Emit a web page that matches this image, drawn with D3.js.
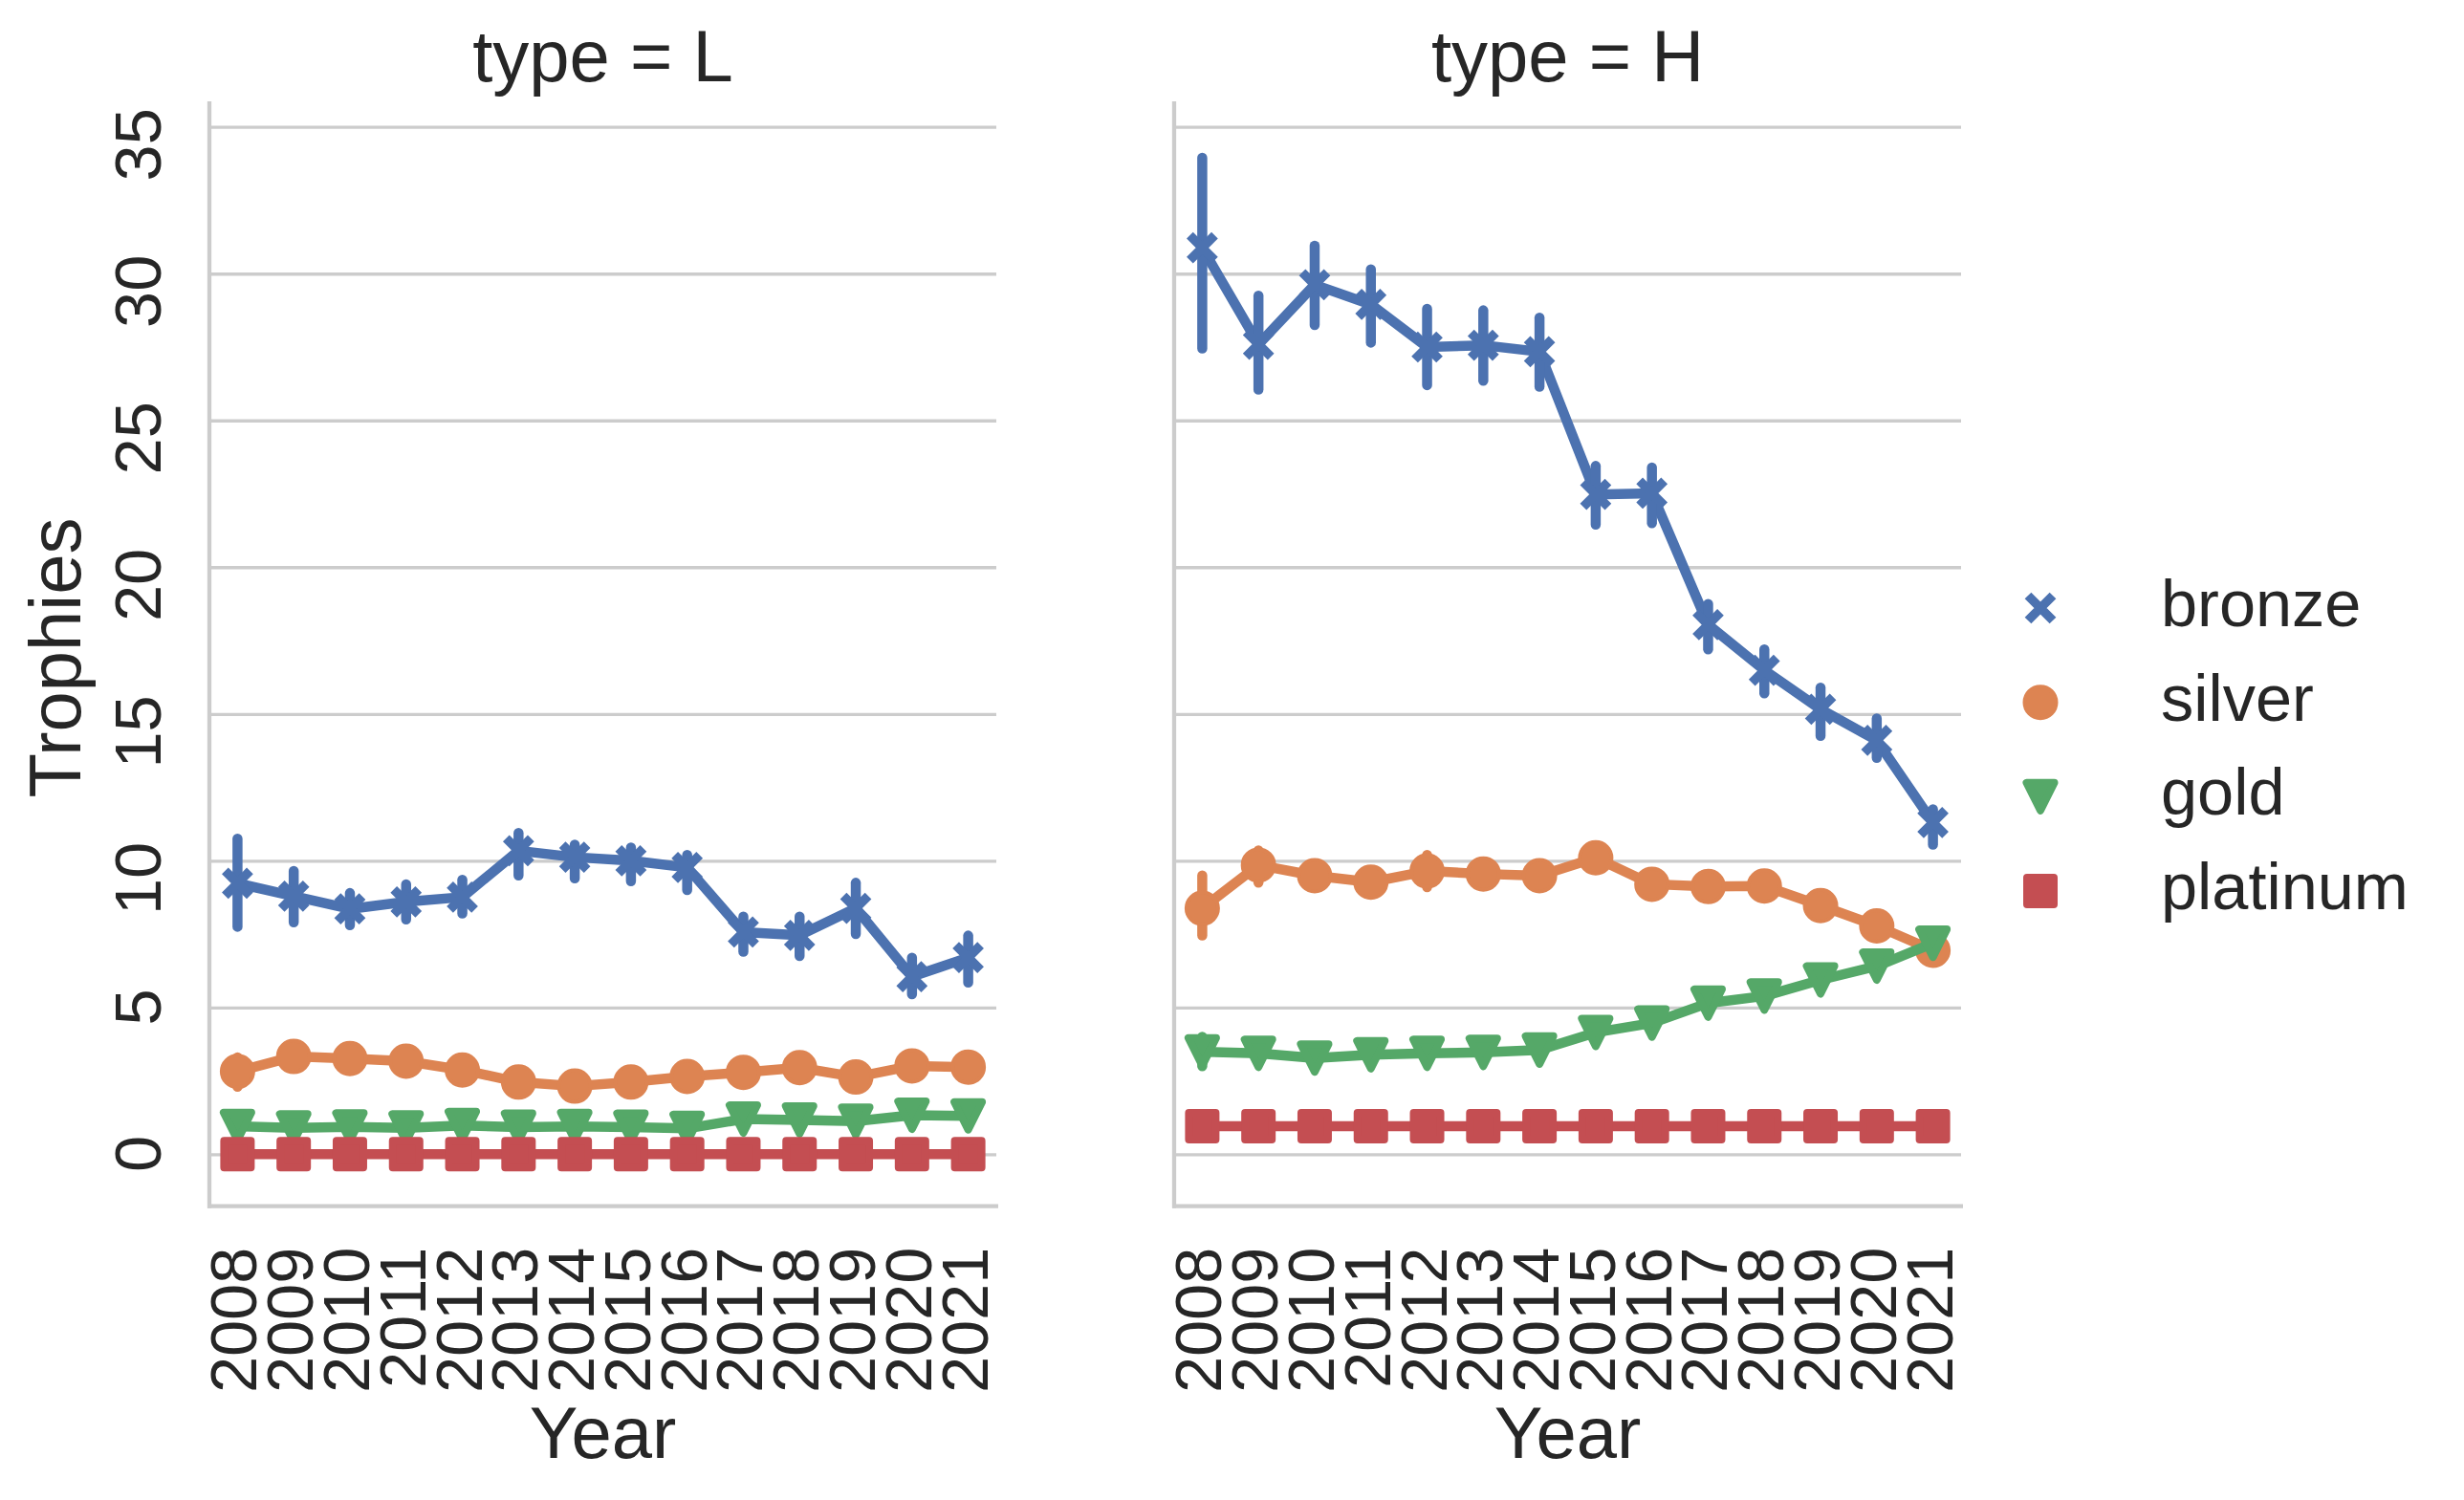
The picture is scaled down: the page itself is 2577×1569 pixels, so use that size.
<!DOCTYPE html>
<html><head><meta charset="utf-8">
<script src="https://cdn.jsdelivr.net/npm/d3@7/dist/d3.min.js"></script>
<style>
body{margin:0;background:#fff}
text{font-family:"Liberation Sans",Arial,sans-serif;fill:#262626}
</style>
</head><body>
<svg id="chart" width="2577" height="1569"></svg>
<script>
// ---------------- data ----------------
const years = ["2008","2009","2010","2011","2012","2013","2014","2015","2016","2017","2018","2019","2020","2021"];
const medals = ["bronze","silver","gold","platinum"];
const panelTypes = ["L","H"];
const medalColors = ["#4c72b0","#dd8452","#55a868","#c44e52"];
const yTickValues = [0,5,10,15,20,25,30,35];

// type = L
const bronzeL   = [9.23, 8.79, 8.36, 8.60, 8.76, 10.34, 10.12, 10.00, 9.77, 7.57, 7.46, 8.38, 6.05, 6.70];
const bronzeLLo = [7.75, 7.90, 7.80, 8.00, 8.20, 9.50, 9.40, 9.30, 9.00, 6.90, 6.75, 7.50, 5.45, 5.85];
const bronzeLHi = [10.75, 9.65, 8.90, 9.20, 9.35, 10.95, 10.55, 10.45, 10.20, 8.10, 8.10, 9.25, 6.70, 7.45];
const silverL   = [2.82, 3.33, 3.26, 3.17, 2.87, 2.46, 2.32, 2.46, 2.65, 2.79, 2.95, 2.63, 3.01, 2.97];
const silverLLo = [2.30, 3.05, 3.00, 2.90, 2.60, 2.20, 2.05, 2.20, 2.40, 2.55, 2.70, 2.35, 2.75, 2.75];
const silverLHi = [3.30, 3.60, 3.50, 3.45, 3.15, 2.75, 2.60, 2.70, 2.90, 3.05, 3.20, 2.90, 3.25, 3.20];
const goldL     = [0.95, 0.90, 0.93, 0.90, 0.98, 0.92, 0.95, 0.92, 0.88, 1.20, 1.17, 1.13, 1.33, 1.31];
const goldLLo   = [0.80, 0.75, 0.78, 0.75, 0.83, 0.77, 0.80, 0.77, 0.73, 1.05, 1.02, 0.98, 1.18, 1.16];
const goldLHi   = [1.10, 1.05, 1.08, 1.05, 1.13, 1.07, 1.10, 1.07, 1.03, 1.35, 1.32, 1.28, 1.48, 1.46];
const platinumL   = [0,0,0,0,0,0,0,0,0,0,0,0,0,0];
const platinumLLo = [0,0,0,0,0,0,0,0,0,0,0,0,0,0];
const platinumLHi = [0,0,0,0,0,0,0,0,0,0,0,0,0,0];

// type = H
const bronzeH   = [30.88, 27.59, 29.62, 28.95, 27.50, 27.56, 27.34, 22.48, 22.52, 18.04, 16.49, 15.16, 14.10, 11.30];
const bronzeHLo = [27.45, 26.05, 28.25, 27.65, 26.20, 26.35, 26.15, 21.45, 21.50, 17.20, 15.70, 14.25, 13.50, 10.55];
const bronzeHHi = [33.95, 29.25, 30.95, 30.15, 28.80, 28.75, 28.50, 23.45, 23.40, 18.75, 17.20, 15.90, 14.85, 11.75];
const silverH   = [8.38, 9.85, 9.49, 9.27, 9.65, 9.55, 9.49, 10.10, 9.20, 9.12, 9.14, 8.47, 7.78, 6.95];
const silverHLo = [7.45, 9.25, 9.15, 9.00, 9.10, 9.15, 9.20, 9.80, 8.95, 8.85, 8.90, 8.20, 7.50, 6.70];
const silverHHi = [9.50, 10.35, 9.85, 9.55, 10.20, 9.95, 9.80, 10.40, 9.45, 9.40, 9.40, 8.75, 8.05, 7.20];
const goldH     = [3.49, 3.44, 3.28, 3.39, 3.44, 3.47, 3.55, 4.15, 4.47, 5.15, 5.39, 5.94, 6.41, 7.19];
const goldHLo   = [3.00, 3.25, 3.10, 3.20, 3.25, 3.30, 3.35, 3.95, 4.25, 4.95, 5.20, 5.75, 6.20, 7.00];
const goldHHi   = [4.00, 3.65, 3.45, 3.60, 3.65, 3.65, 3.75, 4.35, 4.70, 5.35, 5.60, 6.15, 6.60, 7.40];
const platinumH   = [0.96,0.96,0.96,0.96,0.96,0.96,0.96,0.96,0.96,0.96,0.96,0.96,0.96,0.96];
const platinumHLo = [0.96,0.96,0.96,0.96,0.96,0.96,0.96,0.96,0.96,0.96,0.96,0.96,0.96,0.96];
const platinumHHi = [0.96,0.96,0.96,0.96,0.96,0.96,0.96,0.96,0.96,0.96,0.96,0.96,0.96,0.96];

const panelData = {
  L: [[bronzeL,bronzeLLo,bronzeLHi],[silverL,silverLLo,silverLHi],[goldL,goldLLo,goldLHi],[platinumL,platinumLLo,platinumLHi]],
  H: [[bronzeH,bronzeHLo,bronzeHHi],[silverH,silverHLo,silverHHi],[goldH,goldHLo,goldHHi],[platinumH,platinumHLo,platinumHHi]]
};

// ---------------- layout ----------------
const svg = d3.select("#chart");
const panelLeft = [219, 1228];
const panelW = 823;
const yTop = 106, yBottom = 1261.7;
const tickFont = 68.5, labelFont = 76;
const lw = 10.5;
const gridColor = "#cccccc";

const y = d3.scaleLinear().domain([-1.77, 35.87]).range([yBottom, yTop]);

function markerPath(kind) {
  if (kind === 0) { // x
    const a = 13;
    return `M${-a},${-a}L${a},${a}M${-a},${a}L${a},${-a}`;
  } else if (kind === 1) { // circle
    return d3.symbol(d3.symbolCircle, Math.PI * 16.5 * 16.5)();
  } else if (kind === 2) { // triangle down
    const s = 14.5;
    return `M${-s},${-s}L${s},${-s}L0,${s}Z`;
  } else { // square
    const s = 14;
    return `M${-s},${-s}L${s},${-s}L${s},${s}L${-s},${s}Z`;
  }
}
function styleMarker(sel, k) {
  const c = medalColors[k];
  if (k === 0) {
    sel.attr("fill", "none").attr("stroke", c).attr("stroke-width", 9.5);
  } else {
    sel.attr("fill", c).attr("stroke", c).attr("stroke-width", k === 1 ? 4 : 8).attr("stroke-linejoin", "round");
  }
}

panelTypes.forEach((ptype, pi) => {
  const x0 = panelLeft[pi];
  const x = d3.scalePoint().domain(years).range([x0, x0 + panelW]).padding(0.5);
  const g = svg.append("g");

  // horizontal grid
  const grid = g.append("g").attr("transform", `translate(${x0},0)`)
    .call(d3.axisLeft(y).tickValues(yTickValues).tickSize(-panelW).tickFormat(""));
  grid.select(".domain").remove();
  grid.selectAll(".tick line").attr("stroke", gridColor).attr("stroke-width", 3.3);

  // spines
  g.append("line").attr("x1", x0).attr("x2", x0).attr("y1", yTop).attr("y2", yBottom + 2)
    .attr("stroke", gridColor).attr("stroke-width", 4.3);
  g.append("line").attr("x1", x0 - 2).attr("x2", x0 + panelW + 2).attr("y1", yBottom).attr("y2", yBottom)
    .attr("stroke", gridColor).attr("stroke-width", 4.3);

  // y tick labels (left panel only)
  if (pi === 0) {
    const ya = g.append("g").attr("transform", `translate(${x0},0)`)
      .call(d3.axisLeft(y).tickValues(yTickValues).tickSize(0).tickFormat(d3.format("d")));
    ya.select(".domain").remove();
    ya.selectAll(".tick text")
      .attr("x", null).attr("dy", null)
      .attr("text-anchor", "end")
      .attr("transform", "translate(-51,-20) rotate(-90)")
      .style("font-size", tickFont + "px")
      .style("font-family", '"Liberation Sans",Arial,sans-serif')
      .attr("fill", "#262626");
  }

  // x tick labels
  const xa = g.append("g").attr("transform", `translate(0,${yBottom})`)
    .call(d3.axisBottom(x).tickSize(0));
  xa.select(".domain").remove();
  xa.selectAll(".tick text")
    .attr("y", null).attr("dy", null)
    .attr("text-anchor", "end")
    .attr("transform", "translate(19.5,43) rotate(-90)")
    .style("font-size", tickFont + "px")
    .style("font-family", '"Liberation Sans",Arial,sans-serif')
    .attr("fill", "#262626");

  // panel title
  g.append("text").attr("x", x0 + panelW / 2).attr("y", 85)
    .attr("text-anchor", "middle").style("font-size", labelFont + "px")
    .text(`type = ${ptype}`);
  // x label
  g.append("text").attr("x", x0 + panelW / 2).attr("y", 1525)
    .attr("text-anchor", "middle").style("font-size", labelFont + "px")
    .text("Year");

  // series
  panelData[ptype].forEach((ser, k) => {
    const [vals, lo, hi] = ser;
    const c = medalColors[k];
    const pts = years.map((yr, i) => ({yr, v: vals[i], lo: lo[i], hi: hi[i]}));
    const sg = g.append("g");
    sg.append("path").datum(pts)
      .attr("d", d3.line().x(d => x(d.yr)).y(d => y(d.v)))
      .attr("fill", "none").attr("stroke", c).attr("stroke-width", lw)
      .attr("stroke-linejoin", "round").attr("stroke-linecap", "round");
    sg.selectAll("line.err").data(pts).join("line").attr("class", "err")
      .attr("x1", d => x(d.yr)).attr("x2", d => x(d.yr))
      .attr("y1", d => y(d.lo)).attr("y2", d => y(d.hi))
      .attr("stroke", c).attr("stroke-width", lw).attr("stroke-linecap", "round");
    sg.selectAll("path.mk").data(pts).join("path").attr("class", "mk")
      .attr("d", markerPath(k))
      .attr("transform", d => `translate(${x(d.yr)},${y(d.v)})`)
      .call(styleMarker, k);
  });
});

// y label
svg.append("text").attr("transform", "translate(84,688) rotate(-90)")
  .attr("text-anchor", "middle").style("font-size", labelFont + "px").text("Trophies");

// legend
const legY = d3.scalePoint().domain(medals).range([636, 932]);
const leg = svg.append("g");
medals.forEach((m, k) => {
  leg.append("path").attr("d", markerPath(k))
    .attr("transform", `translate(2134,${legY(m)})`).call(styleMarker, k);
  leg.append("text").attr("x", 2260).attr("y", legY(m) + 19)
    .style("font-size", tickFont + "px").text(m);
});
</script>
</body></html>
